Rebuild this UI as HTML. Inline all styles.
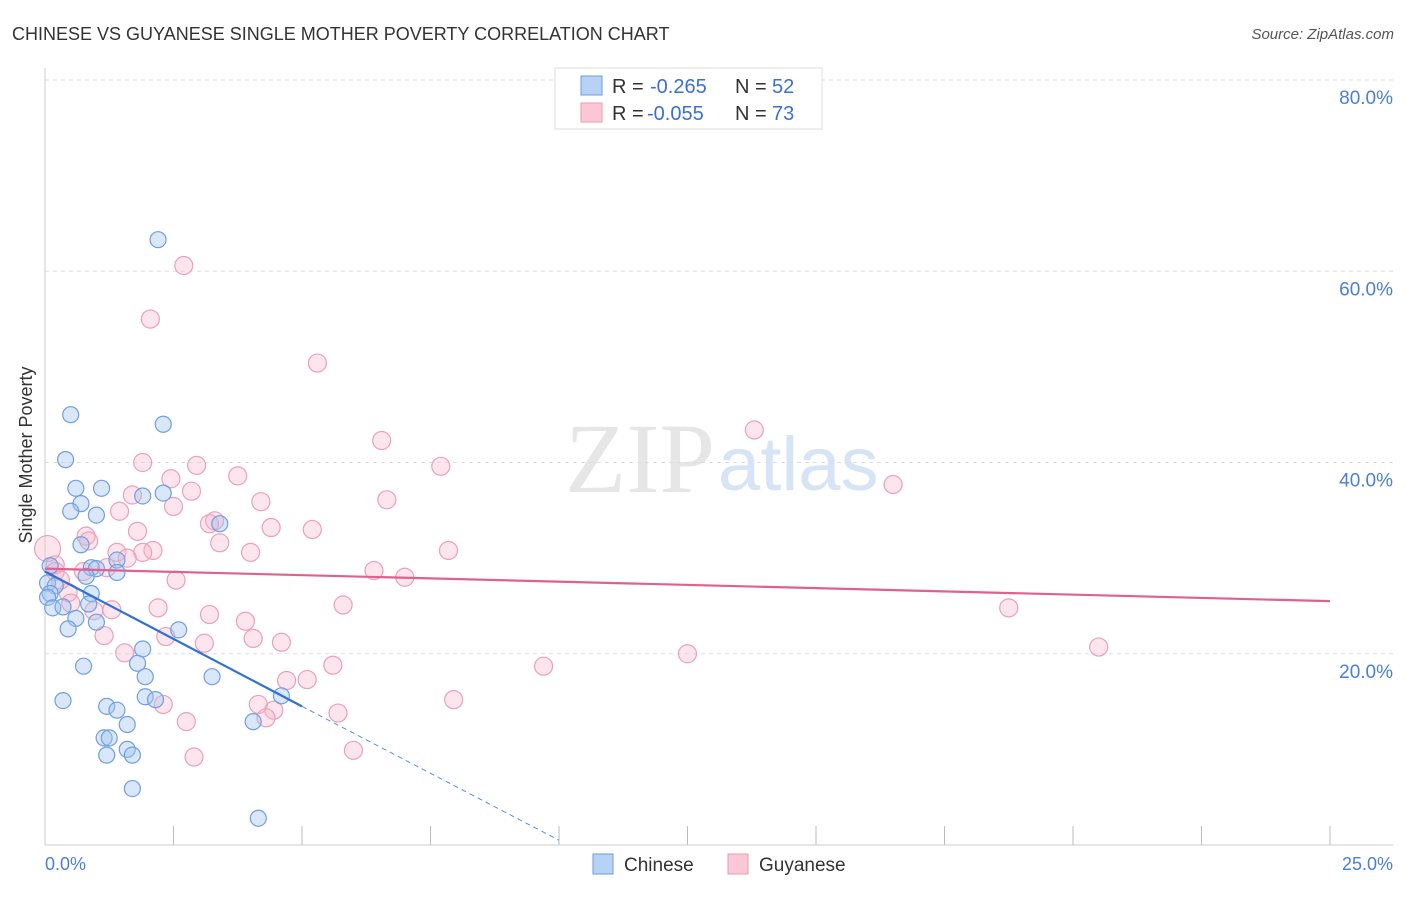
<!DOCTYPE html>
<html><head><meta charset="utf-8"><style>
body{margin:0;background:#fff;font-family:"Liberation Sans",sans-serif;}
</style></head><body>
<svg width="1406" height="892" xmlns="http://www.w3.org/2000/svg">
<text x="12" y="40" font-size="18" fill="#333">CHINESE VS GUYANESE SINGLE MOTHER POVERTY CORRELATION CHART</text>
<text x="1394" y="39" font-size="15" fill="#555" text-anchor="end" font-style="italic">Source: ZipAtlas.com</text>
<text x="715" y="492" font-size="100" fill="#e6e6e6" text-anchor="end" font-family="Liberation Serif">ZIP</text>
<text x="718" y="490" font-size="76" fill="#d6e4f5">atlas</text>
<g id="grid"></g>
<line x1="45" y1="68" x2="45" y2="845" stroke="#ccc"/>
<line x1="45" y1="845" x2="1393" y2="845" stroke="#ccc"/>
<text x="32" y="455" font-size="18" fill="#333" text-anchor="middle" transform="rotate(-90 32 455)">Single Mother Poverty</text>
<text x="45" y="870" font-size="18" fill="#4a7fd4">0.0%</text>
<text x="1393" y="870" font-size="18" fill="#4a7fd4" text-anchor="end">25.0%</text>
<g id="pts"></g>
<g id="trend"></g>
<g>
<rect x="555" y="68" width="267" height="61" fill="#fff" stroke="#ddd"/>
<rect x="581" y="76" width="21" height="19" fill="#b8d2f5" stroke="#6a9de0"/>
<rect x="581" y="103" width="21" height="19" fill="#fcc8d8" stroke="#e99ab5"/>
<text x="612" y="93" font-size="20" fill="#333">R = <tspan x="650" fill="#3b6fd4">-0.265</tspan><tspan x="735">N = </tspan><tspan x="772" fill="#3b6fd4">52</tspan></text>
<text x="612" y="120" font-size="20" fill="#333">R = <tspan x="647" fill="#3b6fd4">-0.055</tspan><tspan x="735">N = </tspan><tspan x="772" fill="#3b6fd4">73</tspan></text>
</g>
<g>
<rect x="593" y="854" width="20" height="20" fill="#b8d2f5" stroke="#6a9de0"/>
<text x="624" y="871" font-size="19" fill="#333">Chinese</text>
<rect x="728" y="854" width="20" height="20" fill="#fcc8d8" stroke="#e99ab5"/>
<text x="759" y="871" font-size="19" fill="#333">Guyanese</text>
</g>
</svg>
<script>
const yTicks=[20,40,60,80];
const xTicks=[0,2.5,5,7.5,10,12.5,15,17.5,20,22.5,25];
const chineseX=[2.2,2.3,0.5,0.4,0.6,1.1,0.7,1.9,2.3,0.5,1.0,3.4,0.7,1.4,0.9,1.0,1.4,0.8,0.1,0.05,0.2,0.1,0.9,0.05,0.15,0.35,0.85,0.6,1.0,0.45,2.6,1.9,0.75,1.8,1.95,3.25,0.35,1.95,2.15,1.2,1.4,1.6,1.15,1.25,4.05,4.6,1.6,1.2,1.7,1.7,4.15];
const chineseY=[63.3,44.0,45.0,40.3,37.3,37.3,35.7,36.5,36.8,34.9,34.5,33.6,31.4,29.8,29.0,28.9,28.5,28.1,29.2,27.4,27.1,26.3,26.3,25.9,24.8,24.9,25.2,23.7,23.3,22.6,22.5,20.5,18.7,19.0,17.6,17.6,15.1,15.5,15.2,14.5,14.1,12.6,11.2,11.2,12.9,15.6,10.0,9.4,9.4,5.9,2.8];
const guyX=[2.7,2.05,5.3,6.55,13.8,7.7,1.9,2.95,3.75,2.45,2.85,1.7,4.2,6.65,16.5,2.5,1.45,4.4,3.3,3.2,5.2,0.8,1.8,3.4,0.85,7.85,4.0,2.1,1.4,1.9,1.6,0.05,0.2,6.4,7.0,1.2,0.2,0.75,2.55,0.45,2.2,3.2,0.5,5.8,18.75,1.3,0.95,3.9,2.35,1.15,4.05,4.6,3.1,20.5,1.55,12.5,9.7,5.6,4.7,5.1,2.3,7.95,4.15,4.45,5.7,2.75,4.3,6.0,2.9,0.3];
const guyY=[60.6,55.0,50.4,42.3,43.4,39.6,40.0,39.7,38.6,38.3,37.0,36.6,35.9,36.1,37.7,35.4,34.9,33.2,33.9,33.6,33.0,32.3,32.8,31.6,31.8,30.8,30.6,30.8,30.6,30.6,30.0,31.0,29.3,28.7,28.0,29.0,28.6,28.6,27.7,26.4,24.8,24.1,25.3,25.1,24.8,24.6,24.5,23.4,21.8,21.9,21.6,21.2,21.1,20.7,20.1,20.0,18.7,18.8,17.2,17.3,14.7,15.2,14.7,14.1,13.8,12.9,13.3,9.9,9.2,27.7];
const guySize=[9,9,9,9,9,9,9,9,9,9,9,9,9,9,9,9,9,9,9,9,9,9,9,9,9,9,9,9,9,9,9,13,9,9,9,9,9,9,9,9,9,9,9,9,9,9,9,9,9,9,9,9,9,9,9,9,9,9,9,9,9,9,9,9,9,9,9,9,9,9];
const chineseTrend=[0,28.6,5,14.5];
const chineseDash=[10,0.5];
const guyTrend=[0,28.9,25,25.5];
const NS="http://www.w3.org/2000/svg";
const xs=v=>45+v*(1330-45)/25;
const ys=v=>845-v*(845-80)/80;
const grid=document.getElementById('grid');
yTicks.forEach(t=>{
 const l=document.createElementNS(NS,'line');
 l.setAttribute('x1',45);l.setAttribute('x2',1393);l.setAttribute('y1',ys(t));l.setAttribute('y2',ys(t));
 l.setAttribute('stroke','#ddd');l.setAttribute('stroke-dasharray','4,4');
 
 
 grid.appendChild(l);
 const tx=document.createElementNS(NS,'text');
 tx.setAttribute('x',1393);tx.setAttribute('y',ys(t)+24);tx.setAttribute('text-anchor','end');
 tx.setAttribute('font-size','19');tx.setAttribute('fill','#4a7fd4');tx.textContent=t.toFixed(1)+'%';
 
 
 grid.appendChild(tx);
});
xTicks.forEach(t=>{
 const l=document.createElementNS(NS,'line');
 l.setAttribute('x1',xs(t));l.setAttribute('x2',xs(t));l.setAttribute('y1',826);l.setAttribute('y2',845);
 l.setAttribute('stroke','#bbb');
 
 
 grid.appendChild(l);
});
const pts=document.getElementById('pts');
function dot(x,y,r,fill,stroke,name){
 const c=document.createElementNS(NS,'circle');
 c.setAttribute('cx',xs(x));c.setAttribute('cy',ys(y));c.setAttribute('r',r);
 c.setAttribute('fill',fill);c.setAttribute('stroke',stroke);c.setAttribute('stroke-width','1.2');
 
 
 pts.appendChild(c);
}
guyX.forEach((x,i)=>dot(x,guyY[i],guySize[i],'rgba(248,180,202,0.35)','#eaa0b9','guyanese-point'));
chineseX.forEach((x,i)=>dot(x,chineseY[i],8,'rgba(160,195,240,0.4)','#6f9fe0','chinese-point'));
const tr=document.getElementById('trend');
function line(a,b,c,d,col,w,dash,name){
 const l=document.createElementNS(NS,'line');
 l.setAttribute('x1',xs(a));l.setAttribute('y1',ys(b));l.setAttribute('x2',xs(c));l.setAttribute('y2',ys(d));
 l.setAttribute('stroke',col);l.setAttribute('stroke-width',w);if(dash)l.setAttribute('stroke-dasharray',dash);
 
 
 tr.appendChild(l);
}
line(guyTrend[0],guyTrend[1],guyTrend[2],guyTrend[3],'#e0608e',2.2,null,'guyanese-trend-line');
line(chineseTrend[0],chineseTrend[1],chineseTrend[2],chineseTrend[3],'#2f6fd8',2.2,null,'chinese-trend-line');
line(chineseTrend[2],chineseTrend[3],chineseDash[0],chineseDash[1],'#5a8fe0',1,'5,4','chinese-trend-extension');
</script>
</body></html>
